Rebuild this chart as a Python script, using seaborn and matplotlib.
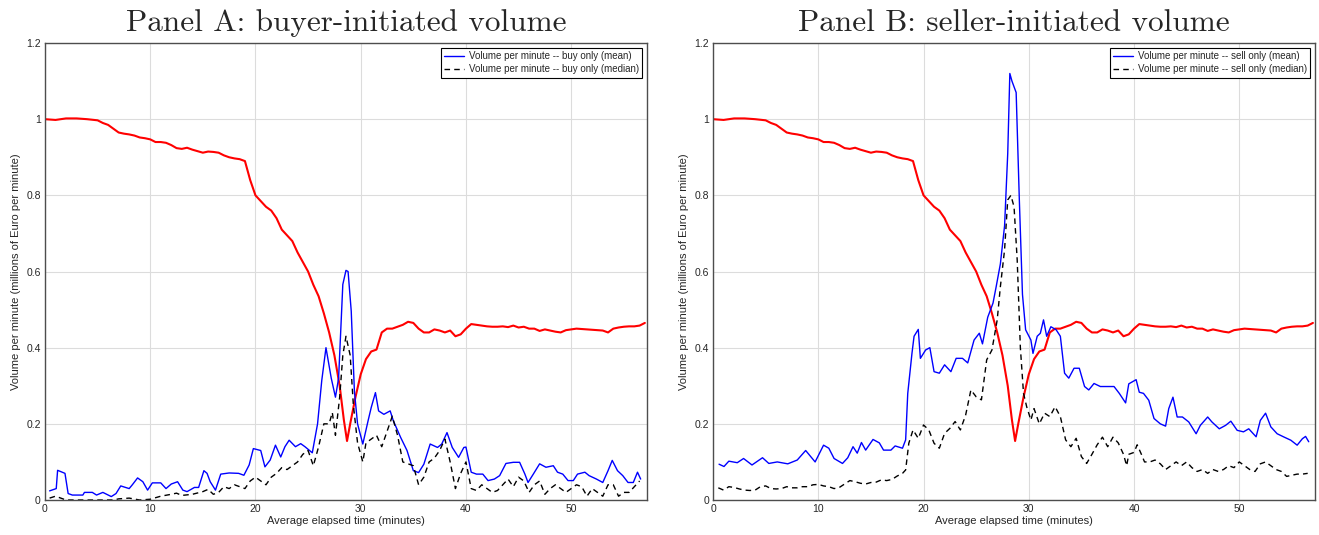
import matplotlib
matplotlib.use("Agg")
import matplotlib.pyplot as plt
import seaborn as sns
from matplotlib.lines import Line2D
from matplotlib.ticker import FuncFormatter

# Shared red curve (normalised price path), same in both panels
red_x = [0, 1, 2, 3, 4, 5, 5.5, 6, 6.5, 7, 7.5, 8, 8.5, 9, 9.5, 10, 10.5, 11,
         11.5, 12, 12.5, 13, 13.5, 14, 14.5, 15, 15.5, 16, 16.5, 17, 17.5, 18,
         18.5, 19, 19.5, 20, 20.5, 21, 21.5, 22, 22.5, 23, 23.5, 24, 24.5, 25,
         25.5, 26, 26.5, 27, 27.5, 28, 28.4, 28.7, 29, 29.5, 30, 30.5, 31,
         31.5, 32, 32.5, 33, 33.5, 34, 34.5, 35, 35.5, 36, 36.5, 37, 37.5, 38,
         38.5, 39, 39.5, 40, 40.5, 41, 41.5, 42, 42.5, 43, 43.5, 44, 44.5, 45,
         45.5, 46, 46.5, 47, 47.5, 48, 48.5, 49, 49.5, 50, 50.5, 51, 51.5, 52,
         52.5, 53, 53.5, 54, 54.5, 55, 55.5, 56, 56.5, 57]
red_y = [1.0, 0.998, 1.002, 1.002, 1.0, 0.997, 0.99, 0.985, 0.975, 0.965,
         0.962, 0.96, 0.957, 0.952, 0.95, 0.947, 0.94, 0.94, 0.938, 0.932,
         0.924, 0.922, 0.925, 0.92, 0.916, 0.912, 0.915, 0.914, 0.912, 0.905,
         0.9, 0.897, 0.895, 0.89, 0.84, 0.80, 0.785, 0.77, 0.76, 0.74, 0.71,
         0.695, 0.68, 0.65, 0.625, 0.6, 0.565, 0.535, 0.49, 0.44, 0.38, 0.3,
         0.21, 0.155, 0.2, 0.27, 0.33, 0.37, 0.39, 0.395, 0.44, 0.45, 0.45,
         0.455, 0.46, 0.468, 0.465, 0.45, 0.44, 0.44, 0.448, 0.445, 0.44,
         0.445, 0.43, 0.435, 0.45, 0.462, 0.46, 0.458, 0.456, 0.455, 0.455,
         0.456, 0.454, 0.458, 0.453, 0.455, 0.45, 0.45, 0.444, 0.448, 0.445,
         0.442, 0.44, 0.446, 0.448, 0.45, 0.449, 0.448, 0.447, 0.446, 0.445,
         0.44, 0.45, 0.453, 0.455, 0.456, 0.456, 0.458, 0.465]

# Panel A: buyer-initiated, mean
buy_mean_x = [0.44, 1.07, 1.2, 1.9, 2.2, 2.6, 3.6, 3.75, 4.5, 4.9, 5.5, 6.3,
              6.75, 7.2, 8.0, 8.3, 8.8, 9.3, 9.75, 10.2, 11.0, 11.5, 12.0,
              12.6, 13.1, 13.5, 14.2, 14.6, 15.1, 15.4, 15.7, 16.2, 16.7, 17.5,
              18.4, 18.9, 19.4, 19.8, 20.5, 20.9, 21.4, 21.9, 22.4, 22.8, 23.2,
              23.8, 24.3, 24.7, 25.4, 25.9, 26.3, 26.7, 27.2, 27.6, 27.9, 28.3,
              28.6, 28.8, 29.1, 29.4, 29.7, 30.2, 30.7, 31.0, 31.4, 31.7, 32.2,
              32.8, 33.1, 33.8, 34.4, 35.0, 35.5, 36.0, 36.6, 37.3, 37.7, 38.2,
              38.7, 39.3, 39.8, 40.0, 40.5, 41.0, 41.6, 42.1, 42.7, 43.2, 43.8,
              44.5, 45.1, 45.6, 45.9, 46.4, 47.0, 47.6, 48.3, 48.7, 49.2, 49.7,
              50.2, 50.6, 51.3, 51.7, 52.4, 53.0, 53.5, 53.9, 54.4, 54.9, 55.4,
              55.9, 56.3, 56.6]
buy_mean_y = [0.024, 0.03, 0.078, 0.07, 0.017, 0.013, 0.013, 0.02, 0.02, 0.013,
              0.02, 0.009, 0.017, 0.037, 0.03, 0.04, 0.058, 0.048, 0.026, 0.045,
              0.045, 0.03, 0.042, 0.048, 0.026, 0.022, 0.033, 0.033, 0.077,
              0.07, 0.048, 0.026, 0.068, 0.071, 0.07, 0.065, 0.092, 0.135, 0.13,
              0.087, 0.105, 0.144, 0.113, 0.14, 0.157, 0.14, 0.148, 0.14, 0.124,
              0.2, 0.314, 0.40, 0.32, 0.27, 0.32, 0.566, 0.603, 0.60, 0.496,
              0.286, 0.2, 0.147, 0.208, 0.243, 0.282, 0.234, 0.225, 0.234,
              0.208, 0.164, 0.13, 0.077, 0.072, 0.094, 0.147, 0.138, 0.147,
              0.177, 0.138, 0.112, 0.138, 0.139, 0.073, 0.068, 0.068, 0.051,
              0.055, 0.064, 0.096, 0.099, 0.099, 0.068, 0.046, 0.068, 0.095,
              0.086, 0.09, 0.073, 0.068, 0.051, 0.051, 0.068, 0.073, 0.064,
              0.055, 0.046, 0.077, 0.104, 0.077, 0.064, 0.046, 0.046, 0.073,
              0.055]

# Panel A: buyer-initiated, median
buy_med_x = [0.44, 1.0, 1.5, 2, 3, 4, 5, 6, 6.5, 7, 8, 9, 10, 11, 12, 12.5,
             13, 14, 15, 15.5, 16, 16.5, 17, 17.5, 18, 18.5, 19, 19.5, 20,
             20.5, 21, 21.5, 22, 22.5, 23, 23.5, 24, 24.5, 25, 25.5, 26, 26.5,
             27, 27.3, 27.6, 28, 28.3, 28.6, 29, 29.3, 29.7, 30.2, 30.5, 31,
             31.5, 32, 32.5, 33, 33.5, 34, 34.5, 35, 35.5, 36, 36.5, 37, 37.5,
             38, 38.5, 39, 39.5, 40, 40.5, 41, 41.5, 42, 42.5, 43, 43.5, 44,
             44.5, 45, 45.5, 46, 46.5, 47, 47.5, 48, 48.5, 49, 49.5, 50, 50.5,
             51, 51.5, 52, 52.5, 53, 53.5, 54, 54.5, 55, 55.5, 56, 56.5]
buy_med_y = [0.005, 0.01, 0.005, 0.0, 0.0, 0.0, 0.0, 0.0, 0.0, 0.003, 0.005,
             0.0, 0.002, 0.01, 0.015, 0.018, 0.012, 0.015, 0.022, 0.028, 0.015,
             0.02, 0.035, 0.03, 0.04, 0.035, 0.03, 0.05, 0.06, 0.05, 0.04,
             0.06, 0.07, 0.085, 0.08, 0.09, 0.1, 0.12, 0.13, 0.09, 0.14, 0.2,
             0.2, 0.23, 0.17, 0.27, 0.38, 0.43, 0.38, 0.25, 0.15, 0.1, 0.15,
             0.16, 0.17, 0.14, 0.18, 0.22, 0.17, 0.1, 0.095, 0.09, 0.04, 0.06,
             0.1, 0.11, 0.13, 0.16, 0.1, 0.03, 0.07, 0.1, 0.03, 0.025, 0.04,
             0.03, 0.02, 0.025, 0.04, 0.055, 0.035, 0.06, 0.05, 0.02, 0.04,
             0.05, 0.015, 0.03, 0.04, 0.03, 0.02, 0.03, 0.04, 0.035, 0.01,
             0.03, 0.02, 0.01, 0.04, 0.04, 0.01, 0.02, 0.02, 0.035, 0.05]

# Panel B: seller-initiated, mean
sell_mean_x = [0.57, 1.04, 1.5, 2.3, 2.9, 3.7, 4.7, 5.3, 6.1, 7.1, 8.0, 8.8,
               9.7, 10.5, 11.0, 11.5, 12.3, 12.8, 13.3, 13.7, 14.1, 14.5, 15.2,
               15.8, 16.2, 16.9, 17.3, 18.0, 18.3, 18.5, 18.9, 19.1, 19.5, 19.7,
               20.2, 20.6, 21.0, 21.5, 22.0, 22.6, 23.1, 23.7, 24.2, 24.8, 25.3,
               25.6, 26.1, 26.6, 26.9, 27.3, 27.7, 28.0, 28.2, 28.4, 28.8, 29.1,
               29.4, 29.7, 30.2, 30.4, 30.8, 31.1, 31.4, 31.7, 32.1, 32.6, 33.0,
               33.4, 33.8, 34.3, 34.8, 35.3, 35.7, 36.2, 36.8, 37.5, 38.1, 38.6,
               39.2, 39.5, 40.2, 40.5, 40.9, 41.4, 41.9, 42.5, 43.0, 43.3, 43.7,
               44.1, 44.6, 45.2, 45.9, 46.3, 47.0, 47.4, 48.1, 48.7, 49.2, 49.8,
               50.4, 50.9, 51.6, 52.0, 52.5, 53.0, 53.6, 54.2, 54.9, 55.5, 56.0,
               56.3, 56.6]
sell_mean_y = [0.094, 0.088, 0.102, 0.098, 0.109, 0.092, 0.111, 0.096, 0.1,
               0.095, 0.105, 0.13, 0.1, 0.144, 0.136, 0.109, 0.096, 0.111,
               0.14, 0.123, 0.151, 0.131, 0.159, 0.15, 0.131, 0.131, 0.142,
               0.136, 0.158, 0.28, 0.385, 0.43, 0.448, 0.372, 0.394, 0.40,
               0.337, 0.333, 0.355, 0.337, 0.372, 0.372, 0.36, 0.42, 0.438,
               0.41, 0.48, 0.517, 0.56, 0.62, 0.72, 0.91, 1.12, 1.10, 1.07,
               0.79, 0.54, 0.447, 0.42, 0.385, 0.43, 0.438, 0.473, 0.43, 0.455,
               0.447, 0.43, 0.333, 0.32, 0.346, 0.346, 0.298, 0.289, 0.306,
               0.298, 0.298, 0.298, 0.28, 0.255, 0.305, 0.316, 0.283, 0.28,
               0.262, 0.214, 0.2, 0.194, 0.24, 0.27, 0.218, 0.218, 0.205, 0.174,
               0.196, 0.218, 0.205, 0.187, 0.196, 0.207, 0.183, 0.179, 0.187,
               0.166, 0.209, 0.228, 0.192, 0.174, 0.166, 0.157, 0.144, 0.161,
               0.167, 0.153]

# Panel B: seller-initiated, median
sell_med_x = [0.5, 1.0, 1.5, 2.0, 2.5, 3.0, 3.5, 4.0, 4.5, 5.0, 5.5, 6.0, 6.5,
              7.0, 7.5, 8.0, 8.5, 9.0, 9.5, 10.0, 10.5, 11.0, 11.5, 12.0, 12.5,
              13.0, 13.5, 14.0, 14.5, 15.0, 15.5, 16.0, 16.5, 17.0, 17.5, 18.0,
              18.3, 18.6, 19.0, 19.5, 20.0, 20.5, 21.0, 21.5, 22.0, 22.5, 23.0,
              23.5, 24.0, 24.5, 25.0, 25.5, 26.0, 26.5, 27.0, 27.3, 27.7, 28.0,
              28.3, 28.6, 28.9, 29.2, 29.5, 29.8, 30.2, 30.5, 31.0, 31.5, 32.0,
              32.5, 33.0, 33.5, 34.0, 34.5, 35.0, 35.5, 36.0, 36.5, 37.0, 37.5,
              38.0, 38.5, 39.0, 39.3, 39.5, 40.0, 40.3, 40.7, 41.0, 41.5, 42.0,
              42.5, 43.0, 43.5, 44.0, 44.5, 45.0, 45.5, 46.0, 46.5, 47.0, 47.5,
              48.0, 48.5, 49.0, 49.5, 50.0, 50.5, 51.0, 51.5, 52.0, 52.5, 53.0,
              53.5, 54.0, 54.5, 55.0, 55.5, 56.0, 56.5]
sell_med_y = [0.032, 0.026, 0.035, 0.033, 0.029, 0.026, 0.025, 0.026, 0.035,
              0.037, 0.03, 0.029, 0.03, 0.035, 0.032, 0.032, 0.035, 0.035,
              0.04, 0.041, 0.037, 0.035, 0.03, 0.033, 0.042, 0.051, 0.048,
              0.044, 0.042, 0.046, 0.047, 0.053, 0.051, 0.054, 0.063, 0.07,
              0.079, 0.149, 0.184, 0.162, 0.197, 0.184, 0.149, 0.136, 0.175,
              0.188, 0.206, 0.184, 0.223, 0.289, 0.271, 0.263, 0.368, 0.394,
              0.473, 0.56, 0.657, 0.788, 0.80, 0.77, 0.63, 0.40, 0.28, 0.245,
              0.21, 0.24, 0.2, 0.228, 0.219, 0.245, 0.219, 0.158, 0.14, 0.162,
              0.114, 0.096, 0.12, 0.145, 0.165, 0.14, 0.165, 0.15, 0.12, 0.09,
              0.12, 0.125, 0.145, 0.12, 0.1, 0.1, 0.105, 0.095, 0.08, 0.09, 0.1,
              0.09, 0.1, 0.085, 0.075, 0.08, 0.07, 0.08, 0.075, 0.08, 0.09,
              0.085, 0.1, 0.09, 0.08, 0.075, 0.095, 0.1, 0.09, 0.08, 0.075,
              0.062, 0.065, 0.068, 0.068, 0.07]

x_ticks = [0, 10, 20, 30, 40, 50]
y_ticks = [0, 0.2, 0.4, 0.6, 0.8, 1.0, 1.2]

sns.set_style("whitegrid")
plt.rcParams["font.family"] = ["Liberation Sans", "DejaVu Sans"]

fig = plt.figure(figsize=(13.19, 5.35), dpi=100)
ax_a = fig.add_axes([0.0341, 0.0654, 0.4564, 0.8542])
ax_b = fig.add_axes([0.5406, 0.0654, 0.4564, 0.8542])

panels = [
    (ax_a, "Panel A: buyer-initiated volume", buy_mean_x, buy_mean_y,
     buy_med_x, buy_med_y, "buy"),
    (ax_b, "Panel B: seller-initiated volume", sell_mean_x, sell_mean_y,
     sell_med_x, sell_med_y, "sell"),
]

for ax, title, mx, my, dx, dy, side in panels:
    sns.lineplot(x=red_x, y=red_y, ax=ax, color="#ff0000", linewidth=1.5,
                 sort=False, estimator=None)
    sns.lineplot(x=mx, y=my, ax=ax, color="#0000ff", linewidth=1.0,
                 sort=False, estimator=None)
    sns.lineplot(x=dx, y=dy, ax=ax, color="black", linewidth=1.0,
                 linestyle=(0, (4, 3)), sort=False, estimator=None)

    ax.set_xlim(0, 57.2)
    ax.set_ylim(0, 1.2)
    ax.set_xticks(x_ticks)
    ax.set_yticks(y_ticks)
    ax.yaxis.set_major_formatter(FuncFormatter(lambda v, p: f"{v:g}"))
    ax.grid(True, color="#dcdcdc", linewidth=0.8)
    ax.set_axisbelow(True)
    for sp in ax.spines.values():
        sp.set_color("#4d4d4d")
        sp.set_linewidth(1.0)
    ax.tick_params(direction="in", length=3, labelsize=7.5,
                   colors="#262626", pad=3)
    ax.set_xlabel("Average elapsed time (minutes)", fontsize=8,
                  color="#262626", labelpad=1)
    ax.set_ylabel("Volume per minute (millions of Euro per minute)",
                  fontsize=8, color="#262626", labelpad=4)
    ax.set_title(title, fontsize=22.5, family="cmr10", pad=9)

    handles = [
        Line2D([], [], color="#0000ff", linewidth=1.0),
        Line2D([], [], color="black", linewidth=1.0, linestyle=(0, (4, 3))),
    ]
    labels = [f"Volume per minute -- {side} only (mean)",
              f"Volume per minute -- {side} only (median)"]
    leg = ax.legend(handles=handles, labels=labels, loc="upper right",
                    fontsize=7, frameon=True, fancybox=False,
                    framealpha=1, edgecolor="black", handlelength=2.0,
                    borderpad=0.35, labelspacing=0.3, handletextpad=0.5,
                    borderaxespad=0, bbox_to_anchor=(0.992, 0.989))
    leg.get_frame().set_linewidth(0.8)

fig.savefig("out.png", dpi=100)
